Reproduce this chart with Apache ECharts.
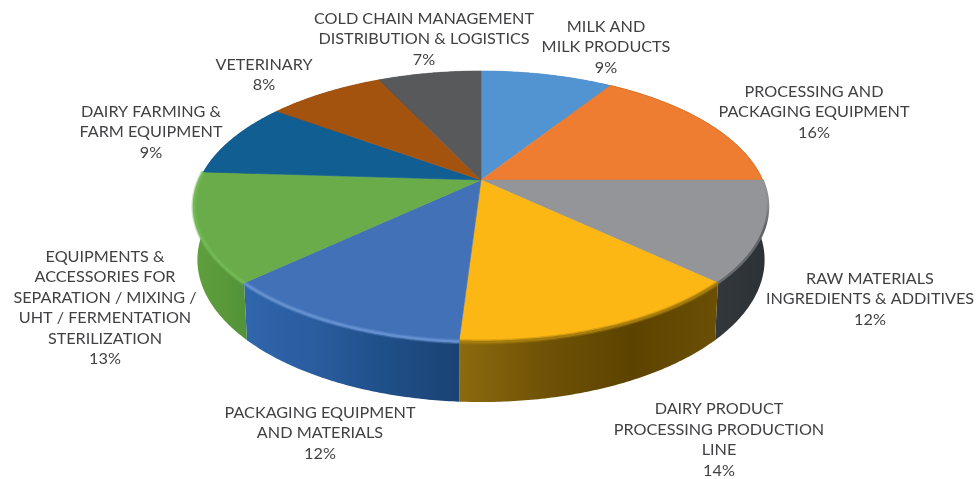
<!DOCTYPE html>
<html lang="en">

<head>
  <meta charset="UTF-8">
  <title>Exhibitor profile</title>
  <script src="https://cdn.jsdelivr.net/npm/echarts@6/dist/echarts.min.js"></script>
  <style>
    html, body { margin: 0; padding: 0; background: #fff; }
  </style>
</head>

<body>
  <div id="main" style="width: 979px;height:479px;"></div>
  <script>
    // data, clockwise from 12 o'clock
    var categories = [
      'MILK AND\nMILK PRODUCTS',
      'PROCESSING AND\nPACKAGING EQUIPMENT',
      'RAW MATERIALS\nINGREDIENTS & ADDITIVES',
      'DAIRY PRODUCT\nPROCESSING PRODUCTION\nLINE',
      'PACKAGING EQUIPMENT\nAND MATERIALS',
      'EQUIPMENTS &\nACCESSORIES FOR\nSEPARATION / MIXING /\nUHT / FERMENTATION\nSTERILIZATION',
      'DAIRY FARMING &\nFARM EQUIPMENT',
      'VETERINARY',
      'COLD CHAIN MANAGEMENT\nDISTRIBUTION & LOGISTICS'
    ];
    var values = [9, 16, 12, 14, 12, 13, 9, 8, 7];

    // colours per slice
    var topColors = ['#5294d2', '#ef7d31', '#939598', '#fdb714', '#4271b8', '#6aab4a', '#115e93', '#a4530f', '#58595b'];
    var rimColors = ['#5294d2', '#d9752f', null, '#a67c0c', '#6590cf', '#72b956', '#115e93', '#a4530f', '#58595b'];
    var wallStops = [
      ['#2f6a9e', '#2f6a9e'],
      ['#9c4f17', '#9c4f17'],
      ['#33383d', '#2c3136'],
      ['#8c6a0e', '#6f5206', '#5c4300', '#6b4f04'],
      ['#2f66ad', '#2a5c9e', '#1f4f88', '#1a4274'],
      ['#5f9f3e', '#5a9a3a', '#51913a'],
      ['#0c4468', '#0c4468'],
      ['#6d3708', '#6d3708'],
      ['#3c3d3f', '#3c3d3f']
    ];

    // label centres, same order as categories
    var labelCenters = [
      [606, 47], [814, 112], [870, 299], [719, 440], [320, 433],
      [105, 308], [151, 132], [264, 75], [424, 39]
    ];

    // projection of the tilted disc
    var apexX = 481, apexY = 180, radius = 281.5, tilt = 130.3, persp = 0.1955;
    var total = values.reduce(function (a, b) { return a + b; }, 0);

    function rimPoint(angle) {
      var u = Math.sin(angle), v = -Math.cos(angle), w = 1 - persp * v;
      return [radius * u / w, tilt * v / w];
    }
    function topPoint(angle) {
      var p = rimPoint(angle);
      return [apexX + p[0], apexY + p[1]];
    }
    function bottomPoint(angle) {
      var p = rimPoint(angle);
      return [apexX + p[0] * 0.988, apexY + p[1] * 1.05 + 52];
    }
    function arcPoints(fn, a0, a1) {
      var pts = [], n = Math.max(2, Math.ceil((a1 - a0) / 0.01));
      for (var k = 0; k <= n; k++) pts.push(fn(a0 + (a1 - a0) * k / n));
      return pts;
    }
    function sliceAngles(i) {
      var before = 0;
      for (var k = 0; k < i; k++) before += values[k];
      return [before / total * 2 * Math.PI, (before + values[i]) / total * 2 * Math.PI];
    }

    function renderWall(params) {
      var i = params.dataIndex, a = sliceAngles(i);
      var pts = arcPoints(topPoint, a[0], a[1]).concat(arcPoints(bottomPoint, a[0], a[1]).reverse());
      var stops = wallStops[i].map(function (c, k, arr) {
        return { offset: k / (arr.length - 1), color: c };
      });
      return {
        type: 'polygon',
        shape: { points: pts },
        style: { fill: new echarts.graphic.LinearGradient(0, 0, 1, 0, stops) }
      };
    }

    function rimStroke(i) {
      if (rimColors[i]) return rimColors[i];
      // the grey slice only darkens towards the front
      return new echarts.graphic.LinearGradient(0, 0, 0, 1, [
        { offset: 0, color: '#939598' },
        { offset: 0.25, color: '#8a8d90' },
        { offset: 0.45, color: '#5f6366' },
        { offset: 1, color: '#6a6e71' }
      ]);
    }

    function renderTop(params) {
      var i = params.dataIndex, a = sliceAngles(i);
      var arc = arcPoints(topPoint, a[0], a[1]);
      var children = [{
        type: 'polygon',
        shape: { points: [[apexX, apexY]].concat(arc) },
        style: { fill: topColors[i], stroke: topColors[i], lineWidth: 0.6 }
      }];
      // the bevel only shows along the front of the disc
      if (i >= 3 && i <= 5) {
        children.push({
          type: 'polyline',
          shape: { points: arc },
          style: { fill: null, stroke: rimStroke(i), lineWidth: 5, opacity: 0.4 }
        });
      }
      if (i >= 1 && i <= 5) {
        children.push({
          type: 'polyline',
          shape: { points: arc },
          style: { fill: null, stroke: rimStroke(i), lineWidth: i === 1 ? 1 : 2.5 }
        });
      }
      return { type: 'group', children: children };
    }

    function renderLabel(params) {
      var i = params.dataIndex;
      return {
        type: 'text',
        style: {
          x: labelCenters[i][0],
          y: labelCenters[i][1],
          text: categories[i] + '\n' + values[i] + '%',
          fill: '#414042',
          fontFamily: 'Lato',
          fontSize: 16.2,
          lineHeight: 20.5,
          textAlign: 'center',
          textVerticalAlign: 'middle'
        }
      };
    }

    var seriesData = values.map(function (v, i) { return [i, v]; });
    var myChart = echarts.init(document.getElementById('main'));

    myChart.setOption({
      animation: false,
      series: [
        { type: 'custom', coordinateSystem: 'none', silent: true, z: 1, data: seriesData, renderItem: renderWall },
        { type: 'custom', coordinateSystem: 'none', silent: true, z: 2, data: seriesData, renderItem: renderTop },
        { type: 'custom', coordinateSystem: 'none', silent: true, z: 3, data: seriesData, renderItem: renderLabel }
      ]
    });
  </script>
</body>

</html>
